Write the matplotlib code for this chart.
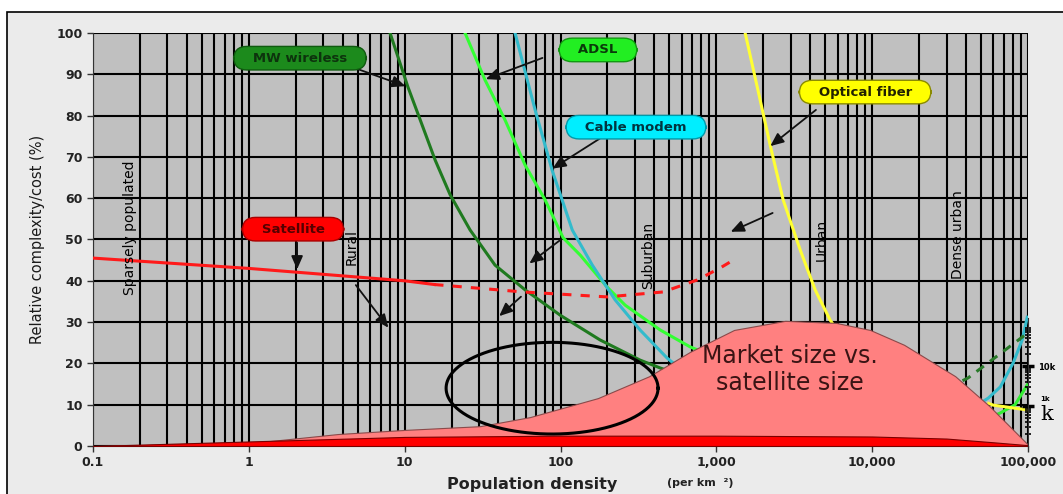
import numpy as np
import matplotlib
matplotlib.use("Agg")
import matplotlib.pyplot as plt
from matplotlib.patches import Rectangle
from matplotlib.ticker import FixedLocator, NullFormatter, LogLocator

# --------------------
# Données
# --------------------
mw_x = [8.06, 10.5, 12.6, 15.7, 19.6, 26.3, 38.0, 59.3, 99.3, 179, 324, 436, 600]
mw_y = [100, 86.9, 78.9, 69.2, 60.8, 52.3, 43.8, 37.8, 31.7, 25.7, 20.8, 18.9, 17.0]

adsl_x = [24.4, 32.8, 44.1, 59.3, 79.6, 104, 134, 199, 260, 436, 679, 850]
adsl_y = [100, 88.6, 78.9, 68.0, 59.6, 50.4, 46.2, 38.5, 34.1, 28.1, 24.0, 22.5]

cable_x = [51.1, 68.7, 88.3, 119, 160, 224, 324, 483, 620]
cable_y = [100, 81.4, 66.8, 52.3, 43.8, 35.4, 28.1, 21.3, 18.0]

fiber_x = [1531, 1910, 2214, 2684, 3451, 4307, 5374, 6200]
fiber_y = [100, 83.8, 72.9, 59.6, 47.5, 37.8, 30.5, 27.0]

sat_x = [0.1, 1, 10, 15.5]
sat_y = [45.5, 43.0, 40.0, 39.1]
sat_dash_x = [15.5, 57.5, 199, 456, 753, 1057, 1232]
sat_dash_y = [39.1, 37.3, 36.1, 37.3, 40.2, 43.1, 44.6]

# extrémité droite (densité urbaine)
cable_end_x = [50000, 55600, 66400, 80300, 91800, 98900]
cable_end_y = [10.5, 11.6, 14.3, 20.1, 25.7, 31.2]
mw_end_x = [38000, 41300, 95900]
mw_end_y = [15.8, 16.5, 26.9]
adsl_end_x = [62000, 66400, 82700, 91800, 98900]
adsl_end_y = [7.5, 8.0, 10.0, 12.8, 14.8]
fiber_end_x = [56000, 59800, 100000]
fiber_end_y = [10.3, 9.9, 8.7]

market_x = [0.1, 1.02, 3.74, 10.1, 30.5, 63.8, 174, 371, 679, 1300, 2767,
            5877, 9704, 16030, 34120, 56400, 98900, 100000]
market_y = [0, 0.7, 2.9, 3.9, 4.8, 7.0, 11.6, 16.9, 22.8, 28.1, 30.3,
            29.8, 28.1, 24.5, 16.9, 9.7, 0.5, 0]

sat_size_x = [0.1, 1, 10, 100, 1000, 10000, 30000, 60000, 100000]
sat_size_y = [0, 1.1, 2.2, 2.5, 2.5, 2.3, 1.8, 0.9, 0.2]

# ellipse (centre en échelle log)
ell_xc, ell_yc = 88.3, 14.0
ell_a_dec, ell_b = 0.68, 11.1

xtick_vals = [0.1, 1, 10, 100, 1000, 10000, 100000]
xtick_labels = ["0.1", "1", "10", "100", "1,000", "10,000", "100,000"]
ytick_vals = list(range(0, 101, 10))

# bulles : texte, x, y, couleur de fond, couleur du bord, couleur du texte
callouts = [
    ("MW wireless", 2.13, 93.9, "#1c8a1c", "#0f5a0f", "#0d330d"),
    ("ADSL", 174, 95.9, "#22ee22", "#119911", "#0a3a0a"),
    ("Optical fiber", 9017, 85.7, "#ffff00", "#8a8a00", "#222200"),
    ("Cable modem", 305, 77.2, "#00eeff", "#009aaa", "#003540"),
    ("Satellite", 1.92, 52.5, "#ff0000", "#aa0000", "#550000"),
]

# flèches : (x départ, y départ, x arrivée, y arrivée)
arrows = [
    (4.8, 91.5, 10.5, 86.9),
    (79.6, 94.2, 31.9, 88.6),
    (4500, 81.8, 2150, 72.2),
    (185, 74.8, 85.8, 66.8),
    (2.04, 49.9, 2.04, 42.1),
    (4.74, 39.5, 8.06, 28.1),
    (104, 50.4, 61.1, 43.8),
    (57.5, 36.6, 39.2, 31.0),
    (2385, 56.7, 1191, 51.6),
]

regions = [
    ("Sparsely populated", 0.173, 52.8),
    ("Rural", 4.59, 48.2),
    ("Suburban", 365, 46.2),
    ("Urban", 4775, 49.9),
    ("Dense urban", 35650, 51.3),
]

plt.rcParams['font.family'] = ['DejaVu Sans']

fig = plt.figure(figsize=(10.63, 4.94), dpi=100, facecolor="white")
# cadre gris clair de la diapositive
fig.patches.append(Rectangle((7 / 1063, -0.1), 1.2, 1.1 - 12 / 494,
                             transform=fig.transFigure, facecolor="#ebebeb",
                             edgecolor="black", lw=1.2, zorder=-10))

ax = fig.add_axes([93 / 1063, 1 - 446 / 494, 935 / 1063, 413 / 494])
ax.set_facecolor("#c0c0c0")
ax.set_xscale("log")
ax.set_xlim(0.1, 100000)
ax.set_ylim(0, 100)

ax.xaxis.set_major_locator(FixedLocator(xtick_vals))
ax.set_xticklabels(xtick_labels, fontsize=9, fontweight="bold", color="#222222")
ax.xaxis.set_minor_locator(LogLocator(base=10, subs=np.arange(2, 10)))
ax.xaxis.set_minor_formatter(NullFormatter())
ax.set_yticks(ytick_vals)
ax.set_yticklabels([str(v) for v in ytick_vals], fontsize=9, fontweight="bold",
                   color="#222222")
ax.tick_params(axis="x", which="minor", length=0)
ax.tick_params(axis="both", which="major", length=4, width=1, color="#333333")

ax.grid(True, which="both", axis="x", color="black", lw=1.5, zorder=0)
ax.grid(True, which="major", axis="y", color="black", lw=1.5, zorder=0)
ax.set_axisbelow(True)
for side in ["top", "right"]:
    ax.spines[side].set_visible(False)
ax.spines["left"].set_color("#333333")
ax.spines["bottom"].set_color("#333333")

# courbes de coût
ax.plot(mw_x, mw_y, color="#1f7a1f", lw=2.2, zorder=3)
ax.plot(adsl_x, adsl_y, color="#33ff33", lw=2.2, zorder=3)
ax.plot(cable_x, cable_y, color="#33bbcc", lw=2.2, zorder=3)
ax.plot(fiber_x, fiber_y, color="#ffff33", lw=2.2, zorder=3)
ax.plot(sat_x, sat_y, color="#ff1a1a", lw=2.2, zorder=3)
ax.plot(sat_dash_x, sat_dash_y, color="#ff1a1a", lw=2.2, ls=(0, (3, 3)), zorder=3)

ax.plot(cable_end_x, cable_end_y, color="#33bbcc", lw=2.2, zorder=3)
ax.plot(mw_end_x, mw_end_y, color="#2a7a2a", lw=2.2, ls=(0, (3, 2.5)), zorder=3)
ax.plot(adsl_end_x, adsl_end_y, color="#33ee33", lw=2.2, zorder=3)
ax.plot(fiber_end_x, fiber_end_y, color="#ffff33", lw=2.2, zorder=3)

# taille du marché et du satellite
ax.fill_between(market_x, market_y, color="#ff8080", edgecolor="#8a4a4a",
                lw=0.8, zorder=4)
ax.fill_between(sat_size_x, sat_size_y, color="#ff0000", edgecolor="#7a0000",
                lw=0.8, zorder=5)

t = np.linspace(0, 2 * np.pi, 300)
ax.plot(10 ** (np.log10(ell_xc) + ell_a_dec * np.cos(t)),
        ell_yc + ell_b * np.sin(t), color="black", lw=2.2, zorder=6)

ax.text(2978, 18.6, "Market size vs.\nsatellite size", fontsize=17,
        ha="center", va="center", color="#3a1414", linespacing=1.15, zorder=7)

for label, x, y in regions:
    ax.text(x, y, label, rotation=90, fontsize=10, ha="center", va="center",
            color="black", zorder=7)

for x0, y0, x1, y1 in arrows:
    ax.annotate("", xy=(x1, y1), xytext=(x0, y0),
                arrowprops=dict(arrowstyle="-|>,head_length=0.8,head_width=0.35",
                                color="#111111", lw=1.3), zorder=8)

for label, x, y, fc, ec, tc in callouts:
    ax.text(x, y, "   " + label + "   ", fontsize=9.5, fontweight="bold",
            color=tc, ha="center", va="center", zorder=9,
            bbox=dict(boxstyle="round,pad=0.4,rounding_size=1.0",
                      fc=fc, ec=ec, lw=1))

ax.set_ylabel("Relative complexity/cost (%)", fontsize=10.5, color="#1a1a1a",
              labelpad=8)
ax.set_xlabel("Population density", fontsize=11.5, fontweight="bold",
              color="#222222", labelpad=3)
ax.xaxis.set_label_coords(0.47, -0.075)
fig.text(700 / 1063, 1 - 483 / 494, "(per km  ²)", fontsize=8, fontweight="bold",
         color="#222222", ha="center", va="center")

# petit axe secondaire (k) à droite
ax2 = ax.inset_axes([1.0, 0.0, 0.0001, 0.31])
ax2.set_yscale("log")
ax2.set_ylim(100, 1.6e5)
ax2.patch.set_visible(False)
for side in ["top", "bottom", "left"]:
    ax2.spines[side].set_visible(False)
ax2.spines["right"].set_color("#333333")
ax2.set_xticks([])
ax2.yaxis.tick_right()
ax2.set_yticks([1e3, 1e4])
ax2.set_yticklabels(["", "10k"], fontsize=6, fontweight="bold")
ax2.yaxis.set_minor_locator(LogLocator(base=10, subs=np.arange(2, 10)))
ax2.yaxis.set_minor_formatter(NullFormatter())
ax2.tick_params(axis="y", which="major", direction="inout", length=8, width=2.5)
ax2.tick_params(axis="y", which="minor", direction="inout", length=5, width=1.2)
fig.text(1045 / 1063, 1 - 399 / 494, "1k", fontsize=5, fontweight="bold",
         ha="center", va="center")
fig.text(1047 / 1063, 1 - 414 / 494, "k", fontsize=15, family="DejaVu Serif",
         ha="center", va="center")

fig.savefig("out.png", dpi=100, facecolor=fig.get_facecolor())
